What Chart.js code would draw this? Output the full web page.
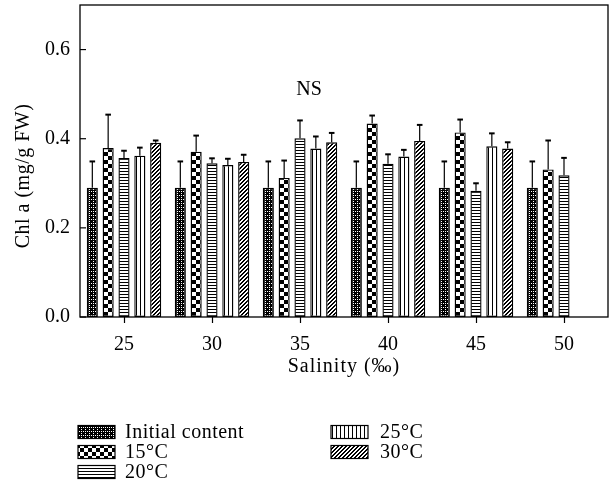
<!DOCTYPE html>
<html>
<head>
<meta charset="utf-8">
<script src="https://cdn.jsdelivr.net/npm/chart.js@4"></script>
<style>
  html, body { margin: 0; padding: 0; background: #fff; }
  canvas { display: block; }
</style>
</head>
<body>
<canvas id="chart" width="610" height="490"></canvas>
<script>
// =======================
// Data
// =======================
const salinity = ["25", "30", "35", "40", "45", "50"];
const seriesNames = ["Initial content", "15\u00B0C", "20\u00B0C", "25\u00B0C", "30\u00B0C"];

const initialContent = [0.290, 0.290, 0.290, 0.290, 0.290, 0.290];
const temp15 = [0.379, 0.371, 0.312, 0.434, 0.414, 0.331];
const temp20 = [0.357, 0.345, 0.401, 0.344, 0.283, 0.318];
const temp25 = [0.362, 0.341, 0.378, 0.360, 0.383, null];
const temp30 = [0.391, 0.348, 0.392, 0.395, 0.378, null];

// upper error bars (SD)
const errInitial = [0.059, 0.059, 0.059, 0.059, 0.059, 0.059];
const err15 = [0.075, 0.036, 0.039, 0.018, 0.029, 0.065];
const err20 = [0.016, 0.011, 0.040, 0.021, 0.017, 0.039];
const err25 = [0.018, 0.014, 0.027, 0.015, 0.029, null];
const err30 = [0.005, 0.016, 0.021, 0.036, 0.014, null];

const yTicks = [0, 0.2, 0.4, 0.6];

const FONT = "'Liberation Serif', 'DejaVu Serif', serif";

// =======================
// Fill patterns
// =======================
function makePattern(size, draw) {
  const c = document.createElement("canvas");
  c.width = c.height = size;
  const g = c.getContext("2d");
  g.fillStyle = "#fff";
  g.fillRect(0, 0, size, size);
  g.fillStyle = "#000";
  draw(g, size);
  return g.createPattern(c, "repeat");
}

const patterns = [
  // fine dotted (initial content)
  makePattern(4, (g, s) => {
    g.fillRect(0, 0, s, s);
    g.fillStyle = "#fff";
    g.fillRect(1, 1, 1, 1);
    g.fillRect(3, 3, 1, 1);
    g.fillRect(1, 3, 1, 1);
  }),
  // coarse checkerboard (15)
  makePattern(8, (g) => {
    g.fillRect(0, 0, 4, 4);
    g.fillRect(4, 4, 4, 4);
  }),
  // horizontal lines (20)
  makePattern(3, (g, s) => {
    g.fillRect(0, 0, s, 1);
  }),
  // vertical lines (25)
  makePattern(4, (g, s) => {
    g.fillRect(0, 0, 1, s);
  }),
  // diagonal hatch (30)
  makePattern(4, (g, s) => {
    for (let i = 0; i < s; i++) {
      g.fillRect(s - 1 - i, i, 1, 1);
      g.fillRect((s - i) % s, i, 1, 1);
    }
  })
];

const values = [initialContent, temp15, temp20, temp25, temp30];
const errors = [errInitial, err15, err20, err25, err30];

const datasets = seriesNames.map((name, i) => ({
  label: name,
  data: values[i],
  errors: errors[i],
  backgroundColor: patterns[i],
  borderColor: "#000",
  borderWidth: 1.4,
  borderSkipped: false,
  categoryPercentage: 0.9,
  barPercentage: 0.7
}));

// =======================
// Plugin: box, inward y ticks, error bars, titles, legend, NS
// =======================
const extras = {
  id: "extras",
  afterDatasetsDraw(chart) {
    const ctx = chart.ctx;
    const y = chart.scales.y;
    const x = chart.scales.x;
    const area = chart.chartArea;

    ctx.save();
    ctx.strokeStyle = "#000";

    // error bars (upper only)
    chart.data.datasets.forEach((ds, di) => {
      const meta = chart.getDatasetMeta(di);
      meta.data.forEach((bar, i) => {
        const v = ds.data[i], e = ds.errors[i];
        if (v == null || e == null) return;
        const top = y.getPixelForValue(v + e);
        ctx.lineWidth = 1.2;
        ctx.beginPath();
        ctx.moveTo(bar.x, bar.y);
        ctx.lineTo(bar.x, top);
        ctx.stroke();
        ctx.lineWidth = 2;
        ctx.beginPath();
        ctx.moveTo(bar.x - 2.8, top);
        ctx.lineTo(bar.x + 2.8, top);
        ctx.stroke();
      });
    });

    // frame
    ctx.lineWidth = 1.3;
    ctx.strokeRect(area.left, area.top, area.right - area.left, area.bottom - area.top);

    // inward y ticks
    ctx.lineWidth = 1.2;
    yTicks.forEach(t => {
      const py = y.getPixelForValue(t);
      ctx.beginPath();
      ctx.moveTo(area.left, py);
      ctx.lineTo(area.left + 6, py);
      ctx.stroke();
    });

    // texts
    ctx.fillStyle = "#000";
    ctx.font = "20px " + FONT;

    // NS note
    ctx.textAlign = "center";
    ctx.textBaseline = "middle";
    ctx.fillText("NS", x.getPixelForValue(2) + 9, y.getPixelForValue(0.51));

    // axis titles
    ctx.letterSpacing = "1px";
    ctx.fillText("Salinity (\u2030)", (area.left + area.right) / 2, 367);

    ctx.save();
    ctx.translate(24, 176);
    ctx.rotate(-Math.PI / 2);
    ctx.letterSpacing = "0.5px";
    ctx.fillText("Chl a (mg/g FW)", 0, 0);
    ctx.restore();

    // legend, two columns
    ctx.letterSpacing = "0.5px";
    const cols = [{ sx: 78, tx: 125 }, { sx: 331, tx: 380 }];
    const rows = [432, 452, 472];
    const slots = [[0, 0], [0, 1], [0, 2], [1, 0], [1, 1]];
    ctx.textAlign = "left";
    chart.data.datasets.forEach((ds, i) => {
      const [c, r] = slots[i];
      const cy = rows[r];
      ctx.fillStyle = ds.backgroundColor;
      ctx.fillRect(cols[c].sx, cy - 6.5, 37, 13);
      ctx.lineWidth = 1.2;
      ctx.strokeRect(cols[c].sx, cy - 6.5, 37, 13);
      ctx.fillStyle = "#000";
      ctx.fillText(ds.label, cols[c].tx, cy + 1);
    });

    ctx.restore();
  }
};

// =======================
// Chart
// =======================
new Chart(document.getElementById("chart"), {
  type: "bar",
  data: { labels: salinity, datasets: datasets },
  options: {
    responsive: false,
    devicePixelRatio: 1,
    animation: false,
    layout: { padding: { left: 0, right: 2, top: 5, bottom: 0 } },
    plugins: {
      legend: { display: false },
      tooltip: { enabled: false }
    },
    scales: {
      x: {
        offset: true,
        border: { display: false },
        grid: {
          offset: false,
          drawOnChartArea: false,
          drawTicks: true,
          tickLength: 6,
          tickWidth: 1.2,
          color: "#000"
        },
        ticks: {
          color: "#000",
          padding: 10,
          font: { family: FONT, size: 20 },
          maxRotation: 0
        },
        afterFit: s => {
          s.height = 173;
          s.paddingLeft = 0;
          s.paddingRight = 0;
        }
      },
      y: {
        min: 0,
        max: 0.7,
        border: { display: false },
        grid: { display: false, drawTicks: false },
        ticks: {
          stepSize: 0.2,
          includeBounds: false,
          color: "#000",
          padding: 10,
          font: { family: FONT, size: 20 },
          callback: v => v.toFixed(1)
        },
        afterFit: s => {
          s.width = 80;
          s.paddingTop = 0;
          s.paddingBottom = 0;
        }
      }
    }
  },
  plugins: [extras]
});
</script>
</body>
</html>
